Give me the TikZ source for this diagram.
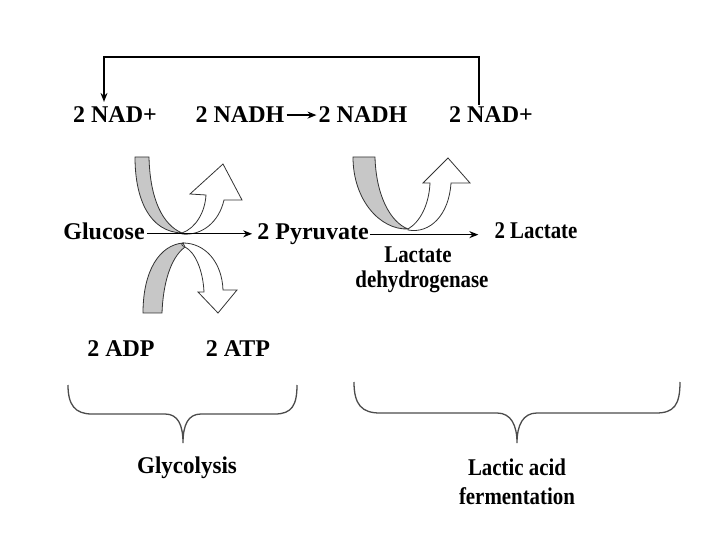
\documentclass[tikz,border=0pt]{standalone}
\usepackage{fontspec}
\setmainfont{Liberation Serif}
\usetikzlibrary{arrows.meta}
\newcommand{\cond}[1]{\scalebox{0.87}[1]{#1}}
\begin{document}
\begin{tikzpicture}[x=1pt,y=-1pt,
  lbl/.style={font=\bfseries\fontsize{24}{28}\selectfont, inner sep=0pt, anchor=base},
  conn/.style={line width=1.2pt, -{Stealth[length=9pt,width=7pt]}},
  band/.style={draw=black!80, line width=0.8pt, fill=black!22},
  hollow/.style={draw=black!80, line width=0.8pt, fill=white},
  brace/.style={line width=1.3pt, draw=black!70}]
\useasboundingbox (0,0) rectangle (704,553);
% labels
\node[lbl] (nad1) at (115,123) {2 NAD+};
\node[lbl] (nadh1) at (240,123) {2 NADH};
\node[lbl] (nadh2) at (363,123) {2 NADH};
\node[lbl] (nad2) at (491,123) {2 NAD+};
\node[lbl] (glu) at (104,240) {Glucose};
\node[lbl] (pyr) at (313,240) {2 Pyruvate};
\node[lbl] (lac) at (536,239) {\cond{2 Lactate}};
\node[lbl] (ldh1) at (418,263) {\cond{Lactate}};
\node[lbl] (ldh2) at (422,288) {\cond{dehydrogenase}};
\node[lbl] (adp) at (121,356) {2 ADP};
\node[lbl] (atp) at (238,356) {2 ATP};
\node[lbl] (gly) at (187,473) {\scalebox{0.96}[1]{Glycolysis}};
\node[lbl] (laf1) at (517,475) {\cond{Lactic acid}};
\node[lbl] (laf2) at (517,504) {\cond{fermentation}};
% coupled curved arrows (glycolysis, top)
\path[band] (135,157) -- (149,157) .. controls (150,200) and (163,225) .. (182,233)
  .. controls (150,232) and (135,200) .. (135,157) -- cycle;
\path[hollow] (182,233) .. controls (196,228) and (205,212) .. (206,195) -- (190,194)
  -- (223,164) -- (242,200) -- (224,200) .. controls (219,222) and (202,236) .. (182,234) -- cycle;
% glycolysis, bottom
\path[band] (143,313) -- (162,313) .. controls (163,285) and (170,258) .. (185,247)
  .. controls (180,245) and (182,243) .. (183,243)
  .. controls (160,245) and (143,270) .. (143,313) -- cycle;
\path[hollow] (183,243) .. controls (205,243) and (222,262) .. (223,290) -- (237,290)
  -- (218,313) -- (198,292) -- (204,292) .. controls (203,270) and (195,252) .. (185,247) -- cycle;
% lactate dehydrogenase
\path[band] (353,157) -- (375,157) .. controls (376,195) and (390,222) .. (408,229)
  .. controls (380,230) and (353,200) .. (353,157) -- cycle;
\path[hollow] (408,229) .. controls (420,222) and (429,205) .. (430,183) -- (423,183)
  -- (448,158) -- (470,183) -- (451,183) .. controls (449,215) and (430,234) .. (408,230) -- cycle;
% connectors
\draw[conn, shorten <=2pt, shorten >=2pt] (nadh1.east) -- (nadh2.west);
\draw[conn, shorten <=2pt, shorten >=5pt] ([yshift=-2pt]glu.east) -- ([yshift=-2pt]glu.east -| pyr.west);
\draw[conn, shorten <=1pt, shorten >=16pt] (pyr.east) -- (pyr.east -| lac.west);
\coordinate (fbtop) at (300,57);
\draw[conn] ([xshift=-12pt,yshift=2pt]nad2.north) -- ([xshift=-12pt]nad2.north |- fbtop)
  -| ([xshift=-11pt,yshift=5pt]nad1.north);
% braces
\draw[brace] (68,385) .. controls (68,405) and (75,414) .. (92,414) -- (165,414)
  .. controls (178,414) and (183,425) .. (183,443)
  .. controls (183,425) and (188,414) .. (201,414) -- (275,414)
  .. controls (292,414) and (297,405) .. (297,385);
\draw[brace] (354,382) .. controls (354,405) and (362,413) .. (380,413) -- (497,413)
  .. controls (511,413) and (517,425) .. (517,443)
  .. controls (517,425) and (523,413) .. (537,413) -- (656,413)
  .. controls (674,413) and (680,405) .. (680,382);
\end{tikzpicture}
\end{document}
